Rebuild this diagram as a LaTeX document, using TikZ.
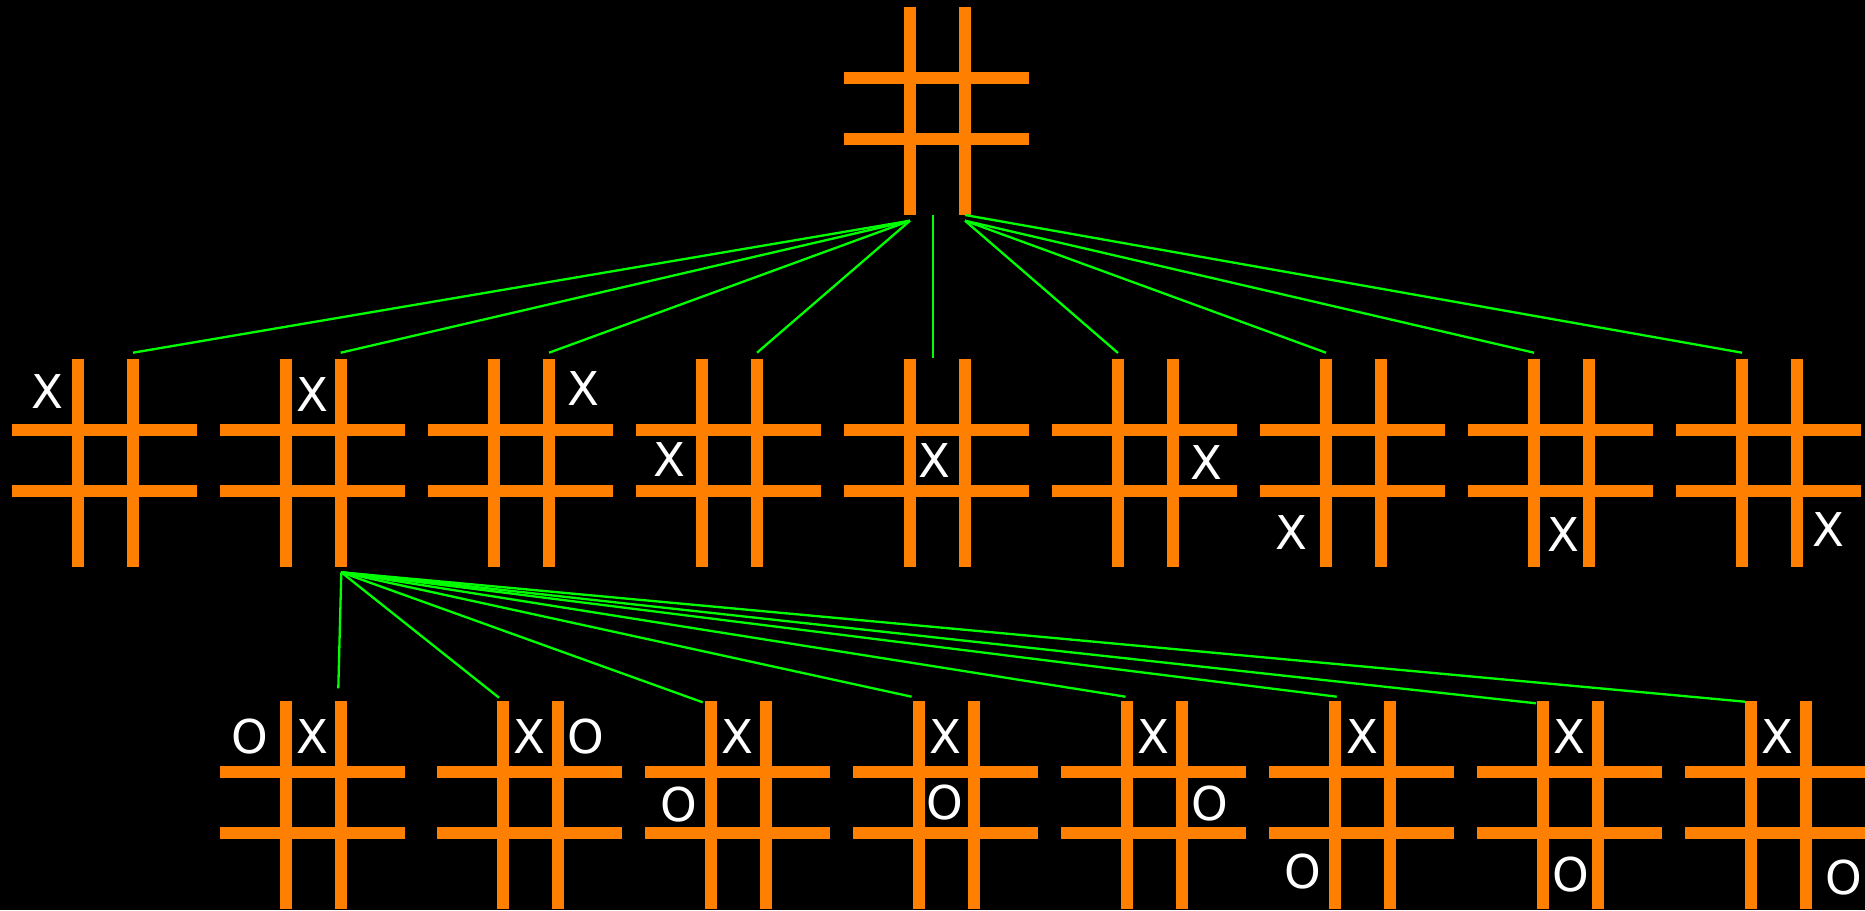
\documentclass[tikz,border=0pt]{standalone}
\usepackage{fontspec}
\newfontfamily\piecefont{DejaVu Sans}
\definecolor{boardorange}{HTML}{FF8000}
\definecolor{edgegreen}{HTML}{00FF00}
\tikzset{
  board/.pic={
    \fill[boardorange] (60.3,0) rectangle (72.3,208);
    \fill[boardorange] (114.5,0) rectangle (126.5,208);
    \fill[boardorange] (0,65) rectangle (185,77);
    \fill[boardorange] (0,126.3) rectangle (185,138.3);
  },
  piece/.style={text=white, inner sep=0pt, anchor=center,
    font=\piecefont\fontsize{46.6}{50}\selectfont},
  edge/.style={draw=edgegreen, line width=2.3pt},
}
\begin{document}
\begin{tikzpicture}[x=1pt,y=-1pt]
\fill[black] (0,0) rectangle (1865,910);
\useasboundingbox (0,0) rectangle (1865,910);
% boards
\pic at (844,6.7) {board};
\foreach \i in {0,...,8} { \pic at ({12+208*\i},359) {board}; }
\pic at (220,701) {board};
\foreach \k in {0,...,6} { \pic at ({437+208*\k},701) {board}; }
% connector end points
\coordinate (tsl) at (910,220.7);
\coordinate (tsr) at (965,220.7);
\coordinate (tsr2) at (965,215);
\coordinate (tsc) at (932.7,215);
\coordinate (r2e0) at (133,352.7);
\coordinate (r2e1) at (340.7,352.7);
\coordinate (r2e2) at (549,352.7);
\coordinate (r2e3) at (757,352.7);
\coordinate (r2e4) at (932.7,358.3);
\coordinate (r2e5) at (1118,353);
\coordinate (r2e6) at (1326,352.7);
\coordinate (r2e7) at (1534,352.7);
\coordinate (r2e8) at (1742,352.7);
\coordinate (r2s) at (341.3,572.3);
\coordinate (r3e0) at (338.3,688.3);
\coordinate (r3e1) at (499,697.7);
\coordinate (r3e2) at (702.7,702.3);
\coordinate (r3e3) at (911.6,696.7);
\coordinate (r3e4) at (1125.5,696.7);
\coordinate (r3e5) at (1336.7,696.7);
\coordinate (r3e6) at (1536,703.3);
\coordinate (r3e7) at (1745,701.7);
% connectors
\foreach \e in {r2e0,r2e1,r2e2,r2e3} { \draw[edge] (tsl) -- (\e); }
\draw[edge] (tsc) -- (r2e4);
\foreach \e in {r2e5,r2e6,r2e7} { \draw[edge] (tsr) -- (\e); }
\draw[edge] (tsr2) -- (r2e8);
\foreach \e in {r3e0,r3e1,r3e2,r3e3,r3e4,r3e5,r3e6,r3e7} { \draw[edge] (r2s) -- (\e); }
% pieces, row 2
\node[piece] (p20) at (47.3,392) {X};
\node[piece] (p21) at (312.5,394.5) {X};
\node[piece] (p22) at (583.7,388.3) {X};
\node[piece] (p23) at (669.4,459.3) {X};
\node[piece] (p24) at (934.7,460.5) {X};
\node[piece] (p25) at (1206,462.2) {X};
\node[piece] (p26) at (1291.8,533) {X};
\node[piece] (p27) at (1563,534.7) {X};
\node[piece] (p28) at (1828,529.7) {X};
% pieces, row 3
\node[piece] (p30o) at (249.7,737) {O};
\node[piece] (p30x) at (312,737) {X};
\node[piece] (p31x) at (529.3,737) {X};
\node[piece] (p31o) at (585.5,737) {O};
\node[piece] (p32x) at (737.3,737) {X};
\node[piece] (p32o) at (679,804.2) {O};
\node[piece] (p33x) at (945.3,737) {X};
\node[piece] (p33o) at (944.5,802.5) {O};
\node[piece] (p34x) at (1153.3,737) {X};
\node[piece] (p34o) at (1210,804) {O};
\node[piece] (p35x) at (1362,737) {X};
\node[piece] (p35o) at (1303.3,871.8) {O};
\node[piece] (p36x) at (1569.5,737) {X};
\node[piece] (p36o) at (1571.3,875) {O};
\node[piece] (p37x) at (1777.8,737) {X};
\node[piece] (p37o) at (1843.8,878) {O};
\end{tikzpicture}
\end{document}
